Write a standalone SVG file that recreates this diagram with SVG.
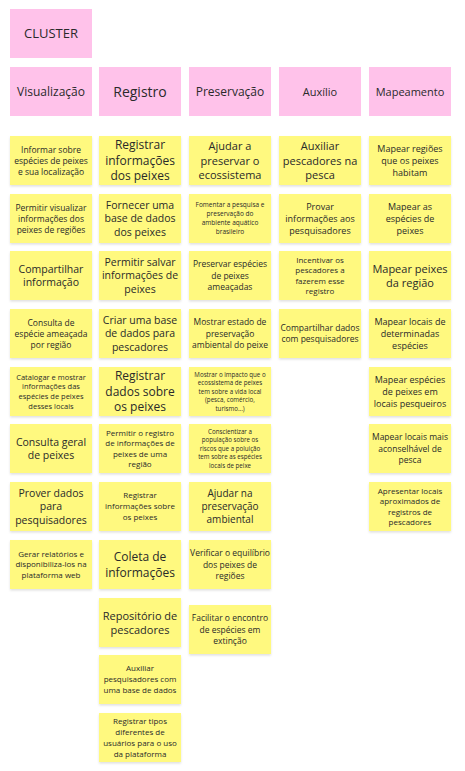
<svg xmlns="http://www.w3.org/2000/svg" width="465" height="771" viewBox="0 0 465 771">
<style>
.p{fill:#FFC2EA}
.y{fill:#FFF97F;filter:url(#sh)}
text{font-family:"Open Sans","Liberation Sans",sans-serif;fill:#2a2a2a;text-anchor:middle}
</style>
<defs>
<filter id="sh" x="-10%" y="-10%" width="120%" height="130%"><feDropShadow dx="0" dy="1.5" stdDeviation="1.2" flood-color="#000" flood-opacity="0.12"/></filter>
</defs>
<rect width="465" height="771" fill="#fff"/>
<g id="cluster"><rect class="p" x="10" y="9" width="82" height="49"/><text x="51" y="38" font-size="13">CLUSTER</text></g>
<g id="h-visualizacao"><rect class="p" x="10" y="67" width="82" height="49"/><text x="51" y="96" font-size="12">Visualização</text></g>
<g id="h-registro"><rect class="p" x="99" y="67" width="82" height="49"/><text x="140" y="96.5" font-size="14">Registro</text></g>
<g id="h-preservacao"><rect class="p" x="189" y="67" width="82" height="49"/><text x="230" y="96" font-size="12">Preservação</text></g>
<g id="h-auxilio"><rect class="p" x="279" y="67" width="82" height="49"/><text x="320" y="95.5" font-size="11">Auxílio</text></g>
<g id="h-mapeamento"><rect class="p" x="369" y="67" width="82" height="49"/><text x="410" y="95.5" font-size="11">Mapeamento</text></g>

<g id="v1"><rect class="y" x="10" y="136" width="82" height="49"/><text font-size="8.5"><tspan x="51" y="152.6">Informar sobre</tspan><tspan x="51" y="163.6">espécies de peixes</tspan><tspan x="51" y="174.6">e sua localização</tspan></text></g>
<g id="v2"><rect class="y" x="10" y="194" width="82" height="49"/><text font-size="8.5"><tspan x="51" y="210.6">Permitir visualizar</tspan><tspan x="51" y="221.6">informações dos</tspan><tspan x="51" y="232.6">peixes de regiões</tspan></text></g>
<g id="v3"><rect class="y" x="10" y="251" width="82" height="49"/><text font-size="10.5"><tspan x="51" y="272.5">Compartilhar</tspan><tspan x="51" y="286">informação</tspan></text></g>
<g id="v4"><rect class="y" x="10" y="309" width="82" height="49"/><text font-size="8.5"><tspan x="51" y="325.6">Consulta de</tspan><tspan x="51" y="336.6">espécie ameaçada</tspan><tspan x="51" y="347.6">por região</tspan></text></g>
<g id="v5"><rect class="y" x="10" y="367" width="82" height="49"/><text font-size="7.5"><tspan x="51" y="379.5">Catalogar e mostrar</tspan><tspan x="51" y="389.3">informações das</tspan><tspan x="51" y="399.1">espécies de peixes</tspan><tspan x="51" y="408.9">desses locais</tspan></text></g>
<g id="v6"><rect class="y" x="10" y="424" width="82" height="49"/><text font-size="10.5"><tspan x="51" y="445.5">Consulta geral</tspan><tspan x="51" y="459">de peixes</tspan></text></g>
<g id="v7"><rect class="y" x="10" y="482" width="82" height="49"/><text font-size="10.5"><tspan x="51" y="496.8">Prover dados</tspan><tspan x="51" y="510.3">para</tspan><tspan x="51" y="523.8">pesquisadores</tspan></text></g>
<g id="v8"><rect class="y" x="10" y="540" width="82" height="49"/><text font-size="8"><tspan x="51" y="556.9">Gerar relatórios e</tspan><tspan x="51" y="567.4">disponibiliza-los na</tspan><tspan x="51" y="577.9">plataforma web</tspan></text></g>

<g id="r1"><rect class="y" x="99" y="136" width="82" height="49"/><text font-size="12"><tspan x="140" y="149.3">Registrar</tspan><tspan x="140" y="164.8">informações</tspan><tspan x="140" y="180.3">dos peixes</tspan></text></g>
<g id="r2"><rect class="y" x="99" y="194" width="82" height="49"/><text font-size="10.5"><tspan x="140" y="208.8">Fornecer uma</tspan><tspan x="140" y="222.3">base de dados</tspan><tspan x="140" y="235.8">dos peixes</tspan></text></g>
<g id="r3"><rect class="y" x="99" y="251" width="82" height="49"/><text font-size="10.5"><tspan x="140" y="265.8">Permitir salvar</tspan><tspan x="140" y="279.3">informações de</tspan><tspan x="140" y="292.8">peixes</tspan></text></g>
<g id="r4"><rect class="y" x="99" y="309" width="82" height="49"/><text font-size="10.5"><tspan x="140" y="323.8">Criar uma base</tspan><tspan x="140" y="337.3">de dados para</tspan><tspan x="140" y="350.8">pescadores</tspan></text></g>
<g id="r5"><rect class="y" x="99" y="367" width="82" height="49"/><text font-size="12"><tspan x="140" y="380.3">Registrar</tspan><tspan x="140" y="395.8">dados sobre</tspan><tspan x="140" y="411.3">os peixes</tspan></text></g>
<g id="r6"><rect class="y" x="99" y="424" width="82" height="49"/><text font-size="8"><tspan x="140" y="435.6">Permitir o registro</tspan><tspan x="140" y="446.1">de informações de</tspan><tspan x="140" y="456.6">peixes de uma</tspan><tspan x="140" y="467.1">região</tspan></text></g>
<g id="r7"><rect class="y" x="99" y="482" width="82" height="49"/><text font-size="8"><tspan x="140" y="498.4">Registrar</tspan><tspan x="140" y="509.4">informações sobre</tspan><tspan x="140" y="520.4">os peixes</tspan></text></g>
<g id="r8"><rect class="y" x="99" y="540" width="82" height="49"/><text font-size="12"><tspan x="140" y="561.1">Coleta de</tspan><tspan x="140" y="576.6">informações</tspan></text></g>
<g id="r9"><rect class="y" x="99" y="598" width="82" height="49"/><text font-size="11"><tspan x="140" y="619.5">Repositório de</tspan><tspan x="140" y="633.5">pescadores</tspan></text></g>
<g id="r10"><rect class="y" x="99" y="655" width="82" height="49"/><text font-size="8"><tspan x="140" y="671.4">Auxiliar</tspan><tspan x="140" y="682.4">pesquisadores com</tspan><tspan x="140" y="693.4">uma base de dados</tspan></text></g>
<g id="r11"><rect class="y" x="99" y="713" width="82" height="49"/><text font-size="8"><tspan x="140" y="723.9">Registrar tipos</tspan><tspan x="140" y="734.9">diferentes de</tspan><tspan x="140" y="745.9">usuários para o uso</tspan><tspan x="140" y="756.9">da plataforma</tspan></text></g>

<g id="p1"><rect class="y" x="189" y="136" width="82" height="49"/><text font-size="11"><tspan x="230" y="150">Ajudar a</tspan><tspan x="230" y="164.5">preservar o</tspan><tspan x="230" y="179">ecossistema</tspan></text></g>
<g id="p2"><rect class="y" x="189" y="194" width="82" height="49"/><text font-size="6.5"><tspan x="230" y="207.3">Fomentar a pesquisa e</tspan><tspan x="230" y="216.3">preservação do</tspan><tspan x="230" y="225.3">ambiente aquático</tspan><tspan x="230" y="234.3">brasileiro</tspan></text></g>
<g id="p3"><rect class="y" x="189" y="251" width="82" height="49"/><text font-size="8.5"><tspan x="230" y="267.3">Preservar espécies</tspan><tspan x="230" y="278.6">de peixes</tspan><tspan x="230" y="289.9">ameaçadas</tspan></text></g>
<g id="p4"><rect class="y" x="189" y="309" width="82" height="49"/><text font-size="8.5"><tspan x="230" y="325.3">Mostrar estado de</tspan><tspan x="230" y="336.6">preservação</tspan><tspan x="230" y="347.9">ambiental do peixe</tspan></text></g>
<g id="p5"><rect class="y" x="189" y="367" width="82" height="49"/><text font-size="6.2"><tspan x="230" y="376.7">Mostrar o impacto que o</tspan><tspan x="230" y="385.2">ecossistema de peixes</tspan><tspan x="230" y="393.7">tem sobre a vida local</tspan><tspan x="230" y="402.2">(pesca, comércio,</tspan><tspan x="230" y="410.7">turismo...)</tspan></text></g>
<g id="p6"><rect class="y" x="189" y="424" width="82" height="49"/><text font-size="6.2"><tspan x="230" y="433.7">Conscientizar a</tspan><tspan x="230" y="442.2">população sobre os</tspan><tspan x="230" y="450.7">riscos que a poluição</tspan><tspan x="230" y="459.2">tem sobre as espécies</tspan><tspan x="230" y="467.7">locais de peixe</tspan></text></g>
<g id="p7"><rect class="y" x="189" y="482" width="82" height="49"/><text font-size="10"><tspan x="230" y="497.1">Ajudar na</tspan><tspan x="230" y="510.1">preservação</tspan><tspan x="230" y="523.1">ambiental</tspan></text></g>
<g id="p8"><rect class="y" x="189" y="540" width="82" height="49"/><text font-size="8.5"><tspan x="230" y="556.3">Verificar o equilíbrio</tspan><tspan x="230" y="567.6">dos peixes de</tspan><tspan x="230" y="578.9">regiões</tspan></text></g>
<g id="p9"><rect class="y" x="189" y="605" width="82" height="49"/><text font-size="8.5"><tspan x="230" y="621.3">Facilitar o encontro</tspan><tspan x="230" y="632.6">de espécies em</tspan><tspan x="230" y="643.9">extinção</tspan></text></g>

<g id="a1"><rect class="y" x="279" y="136" width="82" height="49"/><text font-size="11"><tspan x="320" y="150">Auxiliar</tspan><tspan x="320" y="164.5">pescadores na</tspan><tspan x="320" y="179">pesca</tspan></text></g>
<g id="a2"><rect class="y" x="279" y="194" width="82" height="49"/><text font-size="9"><tspan x="320" y="209.7">Provar</tspan><tspan x="320" y="221.7">informações aos</tspan><tspan x="320" y="233.7">pesquisadores</tspan></text></g>
<g id="a3"><rect class="y" x="279" y="251" width="82" height="49"/><text font-size="8"><tspan x="320" y="262.6">Incentivar os</tspan><tspan x="320" y="273.1">pescadores a</tspan><tspan x="320" y="283.6">fazerem esse</tspan><tspan x="320" y="294.1">registro</tspan></text></g>
<g id="a4"><rect class="y" x="279" y="309" width="82" height="49"/><text font-size="8.5"><tspan x="320" y="331.1">Compartilhar dados</tspan><tspan x="320" y="342.1">com pesquisadores</tspan></text></g>

<g id="m1"><rect class="y" x="369" y="136" width="82" height="49"/><text font-size="9"><tspan x="410" y="151.7">Mapear regiões</tspan><tspan x="410" y="163.7">que os peixes</tspan><tspan x="410" y="175.7">habitam</tspan></text></g>
<g id="m2"><rect class="y" x="369" y="194" width="82" height="49"/><text font-size="9"><tspan x="410" y="209.7">Mapear as</tspan><tspan x="410" y="221.7">espécies de</tspan><tspan x="410" y="233.7">peixes</tspan></text></g>
<g id="m3"><rect class="y" x="369" y="251" width="82" height="49"/><text font-size="11"><tspan x="410" y="272.5">Mapear peixes</tspan><tspan x="410" y="286.5">da região</tspan></text></g>
<g id="m4"><rect class="y" x="369" y="309" width="82" height="49"/><text font-size="9"><tspan x="410" y="324.7">Mapear locais de</tspan><tspan x="410" y="336.7">determinadas</tspan><tspan x="410" y="348.7">espécies</tspan></text></g>
<g id="m5"><rect class="y" x="369" y="367" width="82" height="49"/><text font-size="9"><tspan x="410" y="382.7">Mapear espécies</tspan><tspan x="410" y="394.7">de peixes em</tspan><tspan x="410" y="406.7">locais pesqueiros</tspan></text></g>
<g id="m6"><rect class="y" x="369" y="424" width="82" height="49"/><text font-size="8.5"><tspan x="410" y="440.3">Mapear locais mais</tspan><tspan x="410" y="451.6">aconselhável de</tspan><tspan x="410" y="462.9">pesca</tspan></text></g>
<g id="m7"><rect class="y" x="369" y="482" width="82" height="49"/><text font-size="8"><tspan x="410" y="493.6">Apresentar locais</tspan><tspan x="410" y="504.1">aproximados de</tspan><tspan x="410" y="514.6">registros de</tspan><tspan x="410" y="525.1">pescadores</tspan></text></g>

<g id="connectors"></g>
</svg>
